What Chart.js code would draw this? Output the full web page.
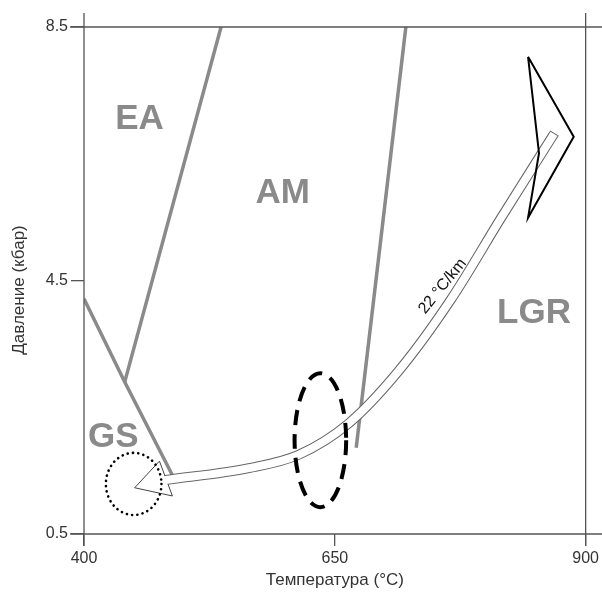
<!DOCTYPE html>
<html>
<head>
<meta charset="utf-8">
<script src="https://cdn.jsdelivr.net/npm/chart.js@4/dist/chart.umd.min.js"></script>
<style>body{margin:0;background:#fff}</style>
</head>
<body>
<canvas id="pt" width="602" height="602"></canvas>
<script>
// axis ticks
var xTicks = [400, 650, 900];
var yTicks = [0.5, 4.5, 8.5];

// facies boundaries [T, P]
var eaAm = [[536.6, 8.5], [440.6, 2.9]];
var gsLine = [[400, 4.21], [440.6, 2.9], [488, 1.43]];
var amLgr = [[720.8, 8.5], [671.3, 1.86]];

// P-T path (arrow shaft) and its head
var pathT = [480.2, 564.4, 613.9, 663.4, 712.9, 765.3, 815.8, 866.3];
var pathP = [1.35, 1.54, 1.75, 2.24, 3.06, 4.19, 5.49, 6.76];
var headT = [450.5, 475.2, 488.1, 450.5];
var headP = [1.23, 1.65, 1.10, 1.23];

// peak arrow
var peakT = [842.6, 888.1, 842.6, 853.5, 842.6];
var peakP = [8.03, 6.77, 5.49, 6.51, 8.03];

// field names
var zones = ['EA', 'AM', 'GS', 'LGR'];
var zoneT = [455.4, 598, 429.2, 848.5];
var zoneP = [7.05, 5.87, 2.03, 3.98];

// ellipses: centre T, centre P, radius T, radius P
var dashedEll = [635.6, 1.98, 25.7, 1.057];
var dottedEll = [449.5, 1.29, 27.7, 0.49];

var gradLabel = '22 °C/km';
var gradPos = [757.4, 4.41];

function pts(a) { return a.map(function (p) { return {x: p[0], y: p[1]}; }); }
function zip(xs, ys) { return xs.map(function (x, i) { return {x: x, y: ys[i]}; }); }

var grey = '#8a8a8a';
var axisCol = '#555';
var fam = '"Liberation Sans", Arial, sans-serif';

var extras = {
  id: 'extras',
  afterDatasetsDraw: function (chart) {
    var c = chart.ctx, xs = chart.scales.x, ys = chart.scales.y;
    var a = chart.chartArea;
    c.save();
    // frame
    c.strokeStyle = axisCol;
    c.lineWidth = 1.3;
    c.beginPath();
    [xs.min, xs.max].forEach(function (v) {
      var px = xs.getPixelForValue(v);
      c.moveTo(px, a.top - 14); c.lineTo(px, a.bottom + 12);
    });
    [ys.min, ys.max].forEach(function (v) {
      var py = ys.getPixelForValue(v);
      c.moveTo(a.left - 14, py); c.lineTo(chart.width, py);
    });
    c.stroke();

    // field names
    c.fillStyle = grey;
    c.font = 'bold 35px ' + fam;
    c.textAlign = 'center';
    c.textBaseline = 'middle';
    zones.forEach(function (z, i) {
      c.fillText(z, xs.getPixelForValue(zoneT[i]), ys.getPixelForValue(zoneP[i]));
    });

    // gradient label
    c.save();
    c.translate(xs.getPixelForValue(gradPos[0]), ys.getPixelForValue(gradPos[1]));
    c.rotate(-51 * Math.PI / 180);
    c.fillStyle = '#111';
    c.font = '16px ' + fam;
    c.fillText(gradLabel, 0, 0);
    c.restore();

    // ellipses
    function ell(e) {
      var cx = xs.getPixelForValue(e[0]), cy = ys.getPixelForValue(e[1]);
      var rx = Math.abs(xs.getPixelForValue(e[0] + e[2]) - cx);
      var ry = Math.abs(ys.getPixelForValue(e[1] + e[3]) - cy);
      c.beginPath();
      c.ellipse(cx, cy, rx, ry, 0, 0, Math.PI * 2);
      c.stroke();
    }
    c.strokeStyle = '#000';
    c.lineWidth = 4;
    c.setLineDash([15, 9]);
    c.lineCap = 'butt';
    ell(dashedEll);
    c.lineWidth = 2.6;
    c.setLineDash([0.1, 5.2]);
    c.lineCap = 'round';
    ell(dottedEll);
    c.restore();
  }
};

new Chart(document.getElementById('pt'), {
  type: 'line',
  data: {
    datasets: [
      { data: pts(eaAm), borderColor: grey, borderWidth: 3.5, order: 10 },
      { data: pts(gsLine), borderColor: grey, borderWidth: 3.5, order: 10 },
      { data: pts(amLgr), borderColor: grey, borderWidth: 3.5, order: 10 },
      { data: zip(pathT, pathP), borderColor: '#666', borderWidth: 10, borderCapStyle: 'square',
        cubicInterpolationMode: 'monotone', order: 6 },
      { data: zip(headT, headP), borderColor: '#444', borderWidth: 1, fill: 'shape',
        backgroundColor: '#fff', order: 5 },
      { data: zip(pathT, pathP), borderColor: '#fff', borderWidth: 8, borderCapStyle: 'square',
        cubicInterpolationMode: 'monotone', order: 4 },
      { data: zip(peakT, peakP), borderColor: '#000', borderWidth: 2, borderJoinStyle: 'miter', order: 3 }
    ]
  },
  options: {
    responsive: false,
    animation: false,
    events: [],
    layout: { padding: { top: 27, right: 13, left: 0, bottom: 0 } },
    elements: { point: { radius: 0 }, line: { tension: 0 } },
    plugins: { legend: { display: false }, tooltip: { enabled: false } },
    scales: {
      x: {
        type: 'linear', min: 400, max: 900,
        afterBuildTicks: function (s) { s.ticks = xTicks.map(function (v) { return {value: v}; }); },
        afterFit: function (s) { s.height = 68; },
        border: { display: false },
        grid: { drawOnChartArea: false, drawTicks: true, tickLength: 12, color: axisCol, lineWidth: 1.3 },
        ticks: { color: '#333', padding: 3, font: { family: fam, size: 16 } },
        title: { display: true, text: 'Температура (°C)', color: '#333', padding: 11,
          font: { family: fam, size: 17 } }
      },
      y: {
        type: 'linear', min: 0.5, max: 8.5,
        afterBuildTicks: function (s) { s.ticks = yTicks.map(function (v) { return {value: v}; }); },
        afterFit: function (s) { s.width = 84; },
        border: { display: false },
        grid: { drawOnChartArea: false, drawTicks: true, tickLength: 13, color: axisCol, lineWidth: 1.3 },
        ticks: { color: '#333', padding: 3, font: { family: fam, size: 16 } },
        title: { display: true, text: 'Давление (кбар)\u00a0\u00a0\u00a0\u00a0', color: '#333', padding: 9,
          font: { family: fam, size: 17 } }
      }
    }
  },
  plugins: [extras]
});
</script>
</body>
</html>
